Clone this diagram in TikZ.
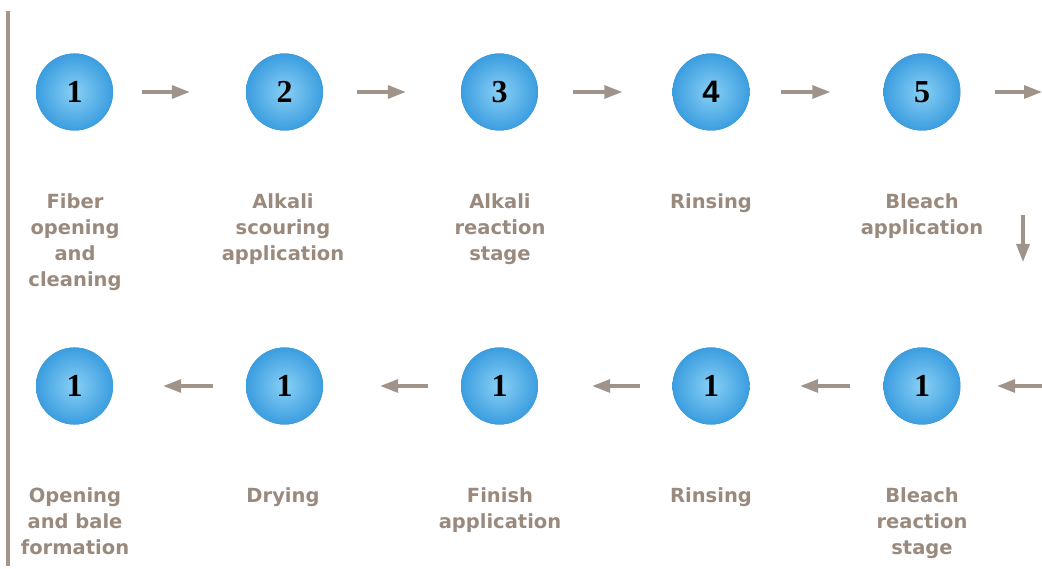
\documentclass[tikz,border=0pt]{standalone}
\usepackage{fontspec}
\setmainfont{DejaVu Sans}
\newfontfamily\numfont{Liberation Serif}
\newfontfamily\numsans{Liberation Sans}
\usetikzlibrary{arrows.meta}
\definecolor{labelc}{HTML}{9A8A7E}
\definecolor{arrowc}{HTML}{A0948A}
\definecolor{barc}{HTML}{A39486}
\definecolor{ballin}{HTML}{88D0F5}
\definecolor{ballmid}{HTML}{3E9FE0}
\definecolor{ballout}{HTML}{1C7ECC}
\pgfdeclareradialshading{ballshade}{\pgfpoint{0bp}{0bp}}{%
  color(0bp)=(ballin); color(24bp)=(ballmid); color(46bp)=(ballout); color(50bp)=(ballout)}
\tikzset{
  ball/.style={circle, minimum size=77pt, inner sep=0pt,
    preaction={fill=ballout}, shading=ballshade,
    font=\numfont\bfseries\fontsize{32}{32}\selectfont, text=black},
  lbl/.style={anchor=north, align=center, inner sep=0pt, text=labelc,
    font=\bfseries\fontsize{19.5}{26}\selectfont},
  flow/.style={draw=arrowc, line width=3.2pt, -{Triangle[length=18pt,width=13pt]}},
}
\begin{document}
\begin{tikzpicture}[x=1pt,y=-1pt]
\useasboundingbox (0,0) rectangle (1042,569);
\fill[barc] (6,11) rectangle (10,566);
% top row
\node[ball] (t1) at (74.5,92) {1};
\node[ball] (t2) at (284.5,92) {2};
\node[ball] (t3) at (499.5,92) {3};
\node[ball, font=\numsans\bfseries\fontsize{31}{31}\selectfont] (t4) at (711,92) {4};
\node[ball] (t5) at (922,92) {5};
% bottom row
\node[ball] (b1) at (74.5,386) {1};
\node[ball] (b2) at (284.5,386) {1};
\node[ball] (b3) at (499.5,386) {1};
\node[ball] (b4) at (711,386) {1};
\node[ball] (b5) at (922,386) {1};
% labels
\node[lbl] (lt1) at (75,193) {Fiber\\opening\\and\\cleaning};
\node[lbl] (lt2) at (283,193) {Alkali\\scouring\\application};
\node[lbl] (lt3) at (500,193) {Alkali\\reaction\\stage};
\node[lbl] (lt4) at (711,193) {Rinsing};
\node[lbl] (lt5) at (922,193) {Bleach\\application};
\node[lbl] (lb1) at (75,487) {Opening\\and bale\\formation};
\node[lbl] (lb2) at (283,487) {Drying};
\node[lbl] (lb3) at (500,487) {Finish\\application};
\node[lbl] (lb4) at (711,487) {Rinsing};
\node[lbl] (lb5) at (922,487) {Bleach\\reaction\\stage};
% free ends
\coordinate (tr) at (1042,92);
\coordinate (dtop) at (1023,215);
\coordinate (dbot) at (1023,262);
\coordinate (br) at (1042,386);
% top arrows
\draw[flow, shorten <=29pt, shorten >=56pt] (t1) -- (t2);
\draw[flow, shorten <=34pt, shorten >=55pt] (t2) -- (t3);
\draw[flow, shorten <=35pt, shorten >=50pt] (t3) -- (t4);
\draw[flow, shorten <=31pt, shorten >=53pt] (t4) -- (t5);
\draw[flow, shorten <=34.5pt] (t5) -- (tr);
\draw[flow] (dtop) -- (dbot);
% bottom arrows
\draw[flow, shorten >=36.5pt] (br) -- (b5);
\draw[flow, shorten <=33.5pt, shorten >=50.5pt] (b5) -- (b4);
\draw[flow, shorten <=32.5pt, shorten >=54pt] (b4) -- (b3);
\draw[flow, shorten <=33pt, shorten >=57pt] (b3) -- (b2);
\draw[flow, shorten <=33pt, shorten >=50pt] (b2) -- (b1);
\end{tikzpicture}
\end{document}
